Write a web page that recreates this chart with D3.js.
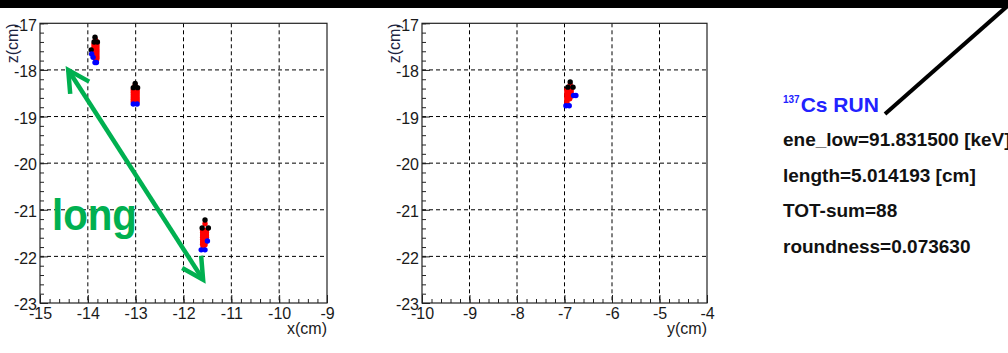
<!DOCTYPE html>
<html>
<head>
<meta charset="utf-8">
<script src="https://cdn.jsdelivr.net/npm/d3@7"></script>
<style>
  html, body { margin: 0; padding: 0; background: #fff; }
  svg { display: block; font-family: "Liberation Sans", Arial, Helvetica, sans-serif; }
</style>
</head>
<body>
<svg id="chart" width="1008" height="353"></svg>
<script>
// ---- axis ranges and tick labels ----
const xDomain = [-15, -9];
const yDomain = [-10, -4];
const zDomain = [-17, -23];
const xTickLabels = [-15, -14, -13, -12, -11, -10, -9];
const yTickLabels = [-10, -9, -8, -7, -6, -5, -4];
const zTickLabels = [-17, -18, -19, -20, -21, -22, -23];

// ---- hits projected on the x–z plane (cm), by marker colour ----
const xzRed = [
  [-13.84, -17.35],
  [-13.87, -17.45], [-13.81, -17.45], [-13.87, -17.50], [-13.81, -17.50],
  [-13.87, -17.55], [-13.81, -17.55], [-13.86, -17.60], [-13.81, -17.60],
  [-13.86, -17.65], [-13.81, -17.65], [-13.85, -17.70], [-13.81, -17.70],
  [-13.84, -17.75], [-13.81, -17.75], [-13.82, -17.79],
  [-13.01, -18.33],
  [-13.05, -18.43], [-12.97, -18.43], [-13.05, -18.48], [-12.97, -18.48],
  [-13.05, -18.53], [-12.97, -18.53], [-13.05, -18.58], [-12.97, -18.58],
  [-13.05, -18.63], [-12.97, -18.63], [-13.05, -18.68], [-12.97, -18.68],
  [-11.55, -21.30],
  [-11.60, -21.44], [-11.52, -21.44], [-11.60, -21.49], [-11.52, -21.49],
  [-11.60, -21.54], [-11.52, -21.54], [-11.60, -21.59], [-11.52, -21.59],
  [-11.60, -21.64], [-11.53, -21.64], [-11.60, -21.69], [-11.55, -21.70],
  [-11.60, -21.74], [-11.55, -21.75], [-11.59, -21.79]
];
const xzBlack = [
  [-13.85, -17.30], [-13.87, -17.40], [-13.80, -17.40], [-13.93, -17.57],
  [-13.01, -18.29], [-13.05, -18.38], [-12.96, -18.38],
  [-11.55, -21.22], [-11.61, -21.39], [-11.48, -21.39]
];
const xzBlue = [
  [-13.92, -17.66], [-13.89, -17.73], [-13.85, -17.84], [-13.82, -17.84],
  [-13.05, -18.73], [-12.97, -18.73],
  [-11.50, -21.67], [-11.63, -21.86], [-11.55, -21.86]
];

// ---- hits projected on the y–z plane (cm), by marker colour ----
const yzRed = [
  [-6.88, -18.32],
  [-6.95, -18.42], [-6.86, -18.42], [-6.95, -18.47], [-6.86, -18.47],
  [-6.95, -18.52], [-6.87, -18.52], [-6.95, -18.57], [-6.88, -18.58],
  [-6.95, -18.62], [-6.89, -18.62], [-6.95, -18.67], [-6.95, -18.72]
];
const yzBlack = [[-6.88, -18.26], [-6.93, -18.37], [-6.82, -18.37]];
const yzBlue = [[-6.81, -18.55], [-6.76, -18.55], [-6.97, -18.77], [-6.90, -18.77]];

// ---- annotation content ----
const longArrowEnds = [[-14.41, -18.0], [-11.59, -22.5]];
const longLabel = { text: "long", x: -14.75, z: -21.43 };
const runSup = "137";
const runTitle = "Cs RUN";
const runInfo = [
  "ene_low=91.831500 [keV]",
  "length=5.014193 [cm]",
  "TOT-sum=88",
  "roundness=0.073630"
];

const svg = d3.select("#chart");
const W = 1008, H = 353;
svg.append("rect").attr("width", W).attr("height", H).attr("fill", "#fff");

const plotTop = 23.3, plotBottom = 303;
const z = d3.scaleLinear().domain(zDomain).range([plotTop, plotBottom]);

function drawPanel(left, right, hDomain, hTicks, hTitle, layers) {
  const h = d3.scaleLinear().domain(hDomain).range([left, right]);
  const g = svg.append("g");

  // dashed grid at the inner major ticks
  const grid = g.append("g").attr("stroke", "#000").attr("stroke-width", 1)
    .attr("stroke-dasharray", "4,3");
  grid.selectAll("line.v").data(hTicks.slice(1, -1)).join("line")
    .attr("x1", d => h(d)).attr("x2", d => h(d))
    .attr("y1", plotTop).attr("y2", plotBottom);
  grid.selectAll("line.h").data(zTickLabels.slice(1, -1)).join("line")
    .attr("x1", left).attr("x2", right)
    .attr("y1", d => z(d)).attr("y2", d => z(d));

  const fmt = d => String(d);
  const minorH = d3.range(0, 31).map(i => hDomain[0] + i * 0.2);
  const minorZ = d3.range(0, 31).map(i => zDomain[0] - i * 0.2);

  const styleAxis = sel => {
    sel.select(".domain").remove();
    sel.selectAll(".tick line").attr("stroke", "#222").attr("stroke-width", 1);
    sel.selectAll(".tick text").attr("fill", "#1a1a1a").attr("font-size", 16)
      .attr("font-family", "'Liberation Sans', Arial, sans-serif");
  };

  // bottom axis: minor + major ticks pointing inward, labels below
  g.append("g").attr("transform", `translate(0,${plotBottom})`)
    .call(d3.axisBottom(h).tickValues(minorH).tickSize(-4).tickFormat(""))
    .call(styleAxis);
  g.append("g").attr("transform", `translate(0,${plotBottom})`)
    .call(d3.axisBottom(h).tickValues(hTicks).tickSize(-8).tickPadding(5).tickFormat(fmt))
    .call(styleAxis);

  // left axis
  g.append("g").attr("transform", `translate(${left},0)`)
    .call(d3.axisLeft(z).tickValues(minorZ).tickSize(-4).tickFormat(""))
    .call(styleAxis);
  g.append("g").attr("transform", `translate(${left},0)`)
    .call(d3.axisLeft(z).tickValues(zTickLabels).tickSize(-8).tickPadding(3).tickFormat(fmt))
    .call(styleAxis)
    .call(a => a.selectAll(".tick text").attr("dy", "0.42em"));

  // frame
  g.append("rect").attr("x", left).attr("y", plotTop)
    .attr("width", right - left).attr("height", plotBottom - plotTop)
    .attr("fill", "none").attr("stroke", "#222").attr("stroke-width", 1.2);

  // axis titles
  g.append("text").attr("x", right).attr("y", 334).attr("text-anchor", "end")
    .attr("font-size", 16).attr("fill", "#1a1a1a").text(hTitle);
  g.append("text").attr("transform", `translate(${left - 22},${plotTop}) rotate(-90)`)
    .attr("text-anchor", "end").attr("font-size", 16).attr("fill", "#1c2340").text("z(cm)");

  // hit markers: red body first, black and blue on top
  layers.forEach(([data, colour]) => {
    g.append("g").selectAll("circle").data(data).join("circle")
      .attr("cx", d => h(d[0])).attr("cy", d => z(d[1])).attr("r", 2.7)
      .attr("fill", colour);
  });
  return h;
}

const xScale = drawPanel(40, 327, xDomain, xTickLabels, "x(cm)",
  [[xzRed, "#ff0000"], [xzBlack, "#000"], [xzBlue, "#0000ff"]]);
drawPanel(422, 707, yDomain, yTickLabels, "y(cm)",
  [[yzRed, "#ff0000"], [yzBlack, "#000"], [yzBlue, "#0000ff"]]);

// ---- green double arrow with "long" label on the x–z view ----
const green = "#00b050";
const p0 = [xScale(longArrowEnds[0][0]), z(longArrowEnds[0][1])];
const p1 = [xScale(longArrowEnds[1][0]), z(longArrowEnds[1][1])];
const arrow = svg.append("g").attr("stroke", green).attr("stroke-width", 4.5)
  .attr("stroke-linecap", "butt").attr("fill", "none");
arrow.append("line").attr("x1", p0[0]).attr("y1", p0[1]).attr("x2", p1[0]).attr("y2", p1[1]);
function head(tip, from) {
  const ang = Math.atan2(from[1] - tip[1], from[0] - tip[0]);
  const len = 24, spread = 28 * Math.PI / 180;
  const a = [tip[0] + len * Math.cos(ang - spread), tip[1] + len * Math.sin(ang - spread)];
  const b = [tip[0] + len * Math.cos(ang + spread), tip[1] + len * Math.sin(ang + spread)];
  arrow.append("path").attr("stroke-linejoin", "miter")
    .attr("d", `M${a[0]},${a[1]}L${tip[0]},${tip[1]}L${b[0]},${b[1]}`);
}
head(p0, p1);
head(p1, p0);
svg.append("text").attr("x", xScale(longLabel.x)).attr("y", z(longLabel.z))
  .attr("font-size", 44).attr("font-weight", "bold").attr("fill", green)
  .attr("textLength", 85).attr("lengthAdjust", "spacingAndGlyphs")
  .text(longLabel.text);

// ---- run summary block ----
const info = svg.append("g");
const title = info.append("text").attr("x", 783).attr("y", 112)
  .attr("font-weight", "bold").attr("fill", "#2222ff");
title.append("tspan").attr("font-size", 10).attr("dy", -9).text(runSup);
title.append("tspan").attr("font-size", 21).attr("dy", 9).attr("dx", 1).text(runTitle);
info.selectAll("text.line").data(runInfo).join("text").attr("class", "line")
  .attr("x", 783).attr("y", (d, i) => 146 + i * 35.5)
  .attr("font-size", 19).attr("font-weight", "bold").attr("fill", "#111")
  .text(d => d);

// pointer line from the title toward the top edge
svg.append("line").attr("x1", 885).attr("y1", 114).attr("x2", 1012).attr("y2", 2)
  .attr("stroke", "#000").attr("stroke-width", 4);

// black strip across the top
svg.append("rect").attr("x", 0).attr("y", 0).attr("width", W).attr("height", 8).attr("fill", "#000");
</script>
</body>
</html>
